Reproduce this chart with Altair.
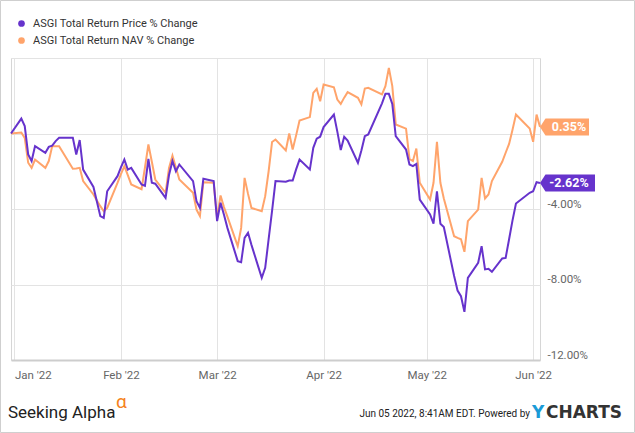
import altair as alt
import pandas as pd

series_names = ["ASGI Total Return Price % Change", "ASGI Total Return NAV % Change"]
series_colors = ["#6633cc", "#ffa46b"]

dates = [
    "2021-12-31",
    "2022-01-03", "2022-01-04", "2022-01-05", "2022-01-06", "2022-01-07",
    "2022-01-10", "2022-01-11", "2022-01-12", "2022-01-13", "2022-01-14",
    "2022-01-18", "2022-01-19", "2022-01-20", "2022-01-21",
    "2022-01-24", "2022-01-25", "2022-01-26", "2022-01-27", "2022-01-28",
    "2022-01-31", "2022-02-01", "2022-02-02", "2022-02-03", "2022-02-04",
    "2022-02-07", "2022-02-08", "2022-02-09", "2022-02-10", "2022-02-11",
    "2022-02-14", "2022-02-15", "2022-02-16", "2022-02-17", "2022-02-18",
    "2022-02-22", "2022-02-23", "2022-02-24", "2022-02-25",
    "2022-02-28", "2022-03-01", "2022-03-02", "2022-03-03", "2022-03-04",
    "2022-03-07", "2022-03-08", "2022-03-09", "2022-03-10", "2022-03-11",
    "2022-03-14", "2022-03-15", "2022-03-16", "2022-03-17", "2022-03-18",
    "2022-03-21", "2022-03-22", "2022-03-23", "2022-03-24", "2022-03-25",
    "2022-03-28", "2022-03-29", "2022-03-30", "2022-03-31", "2022-04-01",
    "2022-04-04", "2022-04-05", "2022-04-06", "2022-04-07", "2022-04-08",
    "2022-04-11", "2022-04-12", "2022-04-13", "2022-04-14",
    "2022-04-18", "2022-04-19", "2022-04-20", "2022-04-21", "2022-04-22",
    "2022-04-25", "2022-04-26", "2022-04-27", "2022-04-28", "2022-04-29",
    "2022-05-02", "2022-05-03", "2022-05-04", "2022-05-05", "2022-05-06",
    "2022-05-09", "2022-05-10", "2022-05-11", "2022-05-12", "2022-05-13",
    "2022-05-16", "2022-05-17", "2022-05-18", "2022-05-19", "2022-05-20",
    "2022-05-23", "2022-05-24", "2022-05-25", "2022-05-26", "2022-05-27",
    "2022-05-31", "2022-06-01", "2022-06-02", "2022-06-03",
]

price_pct = [
    0.00,
    0.79, 0.39, -1.11, -1.46, -0.67,
    -1.02, -0.71, -0.64, -0.40, -0.23,
    -0.23, -1.11, -0.35, -1.91,
    -2.83, -3.60, -4.38, -4.47, -3.06,
    -2.26, -1.80, -1.38, -1.91, -1.82,
    -2.70, -2.77, -1.34, -2.61, -2.66,
    -3.41, -2.20, -1.46, -2.00, -1.64,
    -2.52, -3.59, -3.94, -2.40,
    -2.52, -4.64, -3.67, -4.30, -5.00,
    -6.76, -6.82, -5.53, -5.26, -5.90,
    -7.65, -7.12, -5.60, -4.10, -2.52,
    -2.55, -2.49, -2.49, -1.90, -1.38,
    -1.91, -0.76, -0.27, -0.17, 0.34,
    1.00, 0.10, -0.88, -0.17, -0.37,
    -1.55, -0.90, -0.14, -0.05,
    1.60, 2.10, 2.10, 1.57, -0.14,
    -0.85, -1.64, -1.73, -1.61, -3.50,
    -4.29, -4.78, -3.06, -4.78, -4.96,
    -7.55, -8.32, -8.62, -9.45, -7.65,
    -6.85, -5.97, -7.20, -7.17, -7.33,
    -6.62, -6.59, -5.60, -4.60, -3.71,
    -3.14, -3.06, -2.58, -2.62,
]

nav_pct = [
    0.00,
    0.05, -0.23, -1.55, -1.82, -1.38,
    -1.82, -1.46, -0.67, -0.67, -0.67,
    -1.87, -1.85, -1.82, -2.52,
    -3.23, -3.55, -3.85, -4.12, -3.94,
    -2.62, -2.15, -1.73, -2.20, -2.70,
    -2.95, -1.80, -0.58, -1.50, -2.44,
    -3.14, -1.82, -1.17, -1.80, -2.44,
    -3.14, -4.03, -4.38, -2.58,
    -2.61, -4.47, -3.28, -3.90, -4.40,
    -5.97, -5.00, -2.35, -3.20, -3.94,
    -4.12, -3.32, -2.00, -0.45, -0.32,
    -0.90, 0.00, -0.85, -0.10, 0.69,
    0.87, 2.15, 2.37, 1.71, 2.60,
    2.45, 1.80, 1.57, 1.90, 2.19,
    1.89, 1.54, 2.38, 2.42,
    2.07, 2.51, 3.48, 2.51, 0.48,
    0.26, -1.35, -1.46, -0.80, -2.61,
    -3.50, -2.61, -0.44, -2.61, -3.44,
    -5.44, -5.53, -5.60, -6.27, -4.64,
    -4.03, -2.35, -3.44, -3.23, -2.52,
    -1.50, -1.02, -0.55, 0.20, 1.00,
    0.26, -0.44, 1.00, 0.35,
]

y_ticks = [-12, -8, -4, 0, 4]
month_ticks = [(2022, 1), (2022, 2), (2022, 3), (2022, 4), (2022, 5), (2022, 6)]

df = pd.DataFrame({
    "date": dates * 2,
    "value": price_pct + nav_pct,
    "series": [series_names[0]] * len(dates) + [series_names[1]] * len(dates),
})

last = pd.DataFrame({
    "date": [dates[-1], dates[-1]],
    "value": [price_pct[-1], nav_pct[-1]],
    "series": series_names,
})
last["label"] = [f"{v:.2f}%" for v in last["value"]]

# arrow-tag shapes for the end-value labels
tag_price = "M0,0 L0.55,-0.85 L5.5,-0.85 L5.5,0.85 L0.55,0.85 Z"
tag_nav = "M0,0 L0.55,-0.85 L4.9,-0.85 L4.9,0.85 L0.55,0.85 Z"

FONT = "Roboto"

x_enc = alt.X(
    "date:T",
    scale=alt.Scale(
        type="utc",
        domain=[alt.DateTime(year=2021, month=12, date=31, utc=True),
                alt.DateTime(year=2022, month=6, date=3, utc=True)],
        nice=False,
    ),
    axis=alt.Axis(
        values=[alt.DateTime(year=y, month=m, date=1, utc=True) for y, m in month_ticks],
        labelExpr="utcFormat(datum.value, \"%b '%y\")",
        title=None,
        grid=True,
        gridColor="#e3e3e3",
        domainColor="#cdcdcd",
        domainWidth=2,
        ticks=False,
        labelColor="#666666",
        labelFont=FONT,
        labelFontSize=11.5,
        labelPadding=9,
        labelFlush=5,
    ),
)

y_enc = alt.Y(
    "value:Q",
    scale=alt.Scale(domain=[-12, 4], nice=False, zero=False),
    axis=alt.Axis(
        orient="right",
        values=y_ticks,
        labelExpr="datum.value < 0 ? '-' + format(-datum.value, '.2f') + '%' : ''",
        title=None,
        grid=True,
        gridColor="#e3e3e3",
        domain=False,
        ticks=False,
        labelColor="#666666",
        labelFont=FONT,
        labelFontSize=11.5,
        labelPadding=7,
        labelBaseline="bottom",
    ),
)

color_scale = alt.Scale(domain=series_names, range=series_colors)
legend = alt.Legend(
    orient="none",
    legendX=5,
    legendY=-40,
    title=None,
    symbolType="circle",
    symbolSize=45,
    symbolStrokeWidth=0,
    labelFont=FONT,
    labelFontSize=11,
    labelColor="#333333",
    labelOffset=6,
    labelLimit=0,
    rowPadding=5,
    padding=0,
)

base = alt.Chart(df)

nav_line = base.transform_filter(alt.datum.series == series_names[1]).mark_line(
    strokeWidth=2, color=series_colors[1]
).encode(x=x_enc, y=y_enc)

price_line = base.transform_filter(alt.datum.series == series_names[0]).mark_line(
    strokeWidth=2, color=series_colors[0]
).encode(x=x_enc, y=y_enc)

tag_base = alt.Chart(last)
tag_p = tag_base.transform_filter(alt.datum.series == series_names[0]).mark_point(
    filled=True, opacity=1, size=400, strokeWidth=0, shape=tag_price
).encode(x=x_enc, y=y_enc, color=alt.Color("series:N", scale=color_scale, sort=series_names, legend=legend))
tag_n = tag_base.transform_filter(alt.datum.series == series_names[1]).mark_point(
    filled=True, opacity=1, size=400, strokeWidth=0, shape=tag_nav
).encode(x=x_enc, y=y_enc, color=alt.Color("series:N", scale=color_scale, sort=series_names, legend=legend))

tag_text = tag_base.mark_text(
    color="white", font=FONT, fontWeight="bold", fontSize=12.5, align="center", baseline="middle", dx=29
).encode(x=x_enc, y=y_enc, text="label:N")

one = pd.DataFrame({"k": [0]})
footer_left = alt.Chart(one).mark_text(
    text="Seeking Alpha", font=FONT, fontSize=17, color="#222222", align="left", baseline="middle"
).encode(x=alt.value(-3), y=alt.value(355))
footer_alpha = alt.Chart(one).mark_text(
    text="α", font=FONT, fontSize=19, color="#f58220", align="left", baseline="middle"
).encode(x=alt.value(105), y=alt.value(344))
footer_date = alt.Chart(one).mark_text(
    text="Jun 05 2022, 8:41AM EDT.  Powered by", font=FONT, fontSize=10, color="#222222",
    align="right", baseline="middle"
).encode(x=alt.value(519), y=alt.value(356))
footer_y = alt.Chart(one).mark_text(
    text="Y", font="DejaVu Sans", fontWeight="bold", fontSize=17, color="#1a9bd7",
    align="left", baseline="middle"
).encode(x=alt.value(521), y=alt.value(355))
footer_charts = alt.Chart(one).mark_text(
    text="CHARTS", font="DejaVu Sans", fontWeight="bold", fontSize=17, color="#333333",
    align="left", baseline="middle"
).encode(x=alt.value(535), y=alt.value(355))
border = alt.Chart(one).mark_rect(fill="transparent", stroke="#cfcfcf", strokeWidth=1).encode(
    x=alt.value(-10.5), x2=alt.value(623.5), y=alt.value(-57.5), y2=alt.value(374.5)
)

chart = alt.layer(
    nav_line, price_line, tag_p, tag_n, tag_text,
    footer_left, footer_alpha, footer_date, footer_y, footer_charts, border,
).properties(
    width=529,
    height=302,
    autosize=alt.AutoSizeParams(type="none"),
    padding={"left": 11, "top": 58, "right": 95, "bottom": 73},
    background="white",
).configure_view(stroke="#d6d6d6")

chart.save("out.html", embed_options={"renderer": "svg", "actions": False})
